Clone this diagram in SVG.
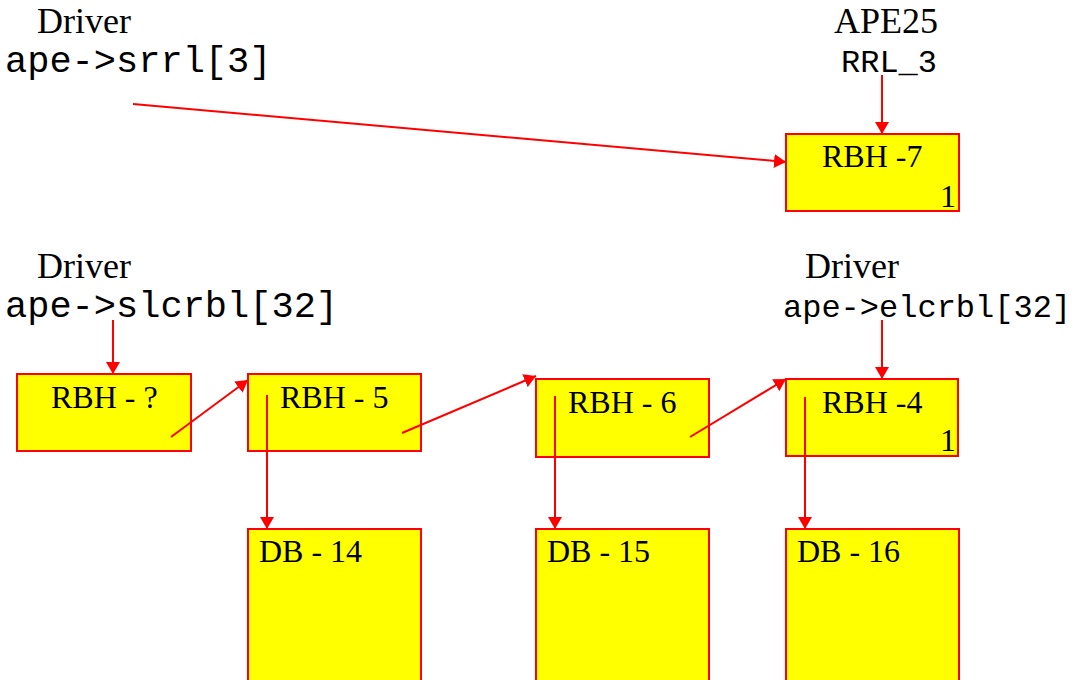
<svg xmlns="http://www.w3.org/2000/svg" width="1074" height="680" viewBox="0 0 1074 680">
<style>
.box{fill:#ffff00;stroke:#ff0000;stroke-width:2}
.lbl{font-family:"Liberation Serif","Times New Roman",serif;font-size:32px;fill:#000}
.head{font-family:"Liberation Serif","Times New Roman",serif;font-size:36px;fill:#000}
.mono{font-family:"Liberation Mono","Courier New",monospace;fill:#000}
.conn{stroke:#ff0000;stroke-width:2;fill:none;marker-end:url(#ah)}
</style>
<defs>
<marker id="ah" markerUnits="userSpaceOnUse" markerWidth="12" markerHeight="14" refX="12" refY="7" orient="auto">
<path d="M0,0 L12,7 L0,14 z" fill="#ff0000"/>
</marker>
</defs>
<rect width="1074" height="680" fill="#fff"/>
<g id="driver-srrl">
<text class="head" x="37" y="33">Driver</text>
<text class="mono" x="5" y="72" font-size="37">ape-&gt;srrl[3]</text>
</g>
<g id="ape25">
<text class="head" x="834" y="33">APE25</text>
<text class="mono" x="841" y="72" font-size="32">RRL_3</text>
</g>
<g id="driver-slcrbl">
<text class="head" x="37" y="278">Driver</text>
<text class="mono" x="5" y="317" font-size="37">ape-&gt;slcrbl[32]</text>
</g>
<g id="driver-elcrbl">
<text class="head" x="805" y="278">Driver</text>
<text class="mono" x="783" y="317" font-size="32">ape-&gt;elcrbl[32]</text>
</g>
<g id="rbh7">
<rect class="box" x="786" y="134" width="173" height="77"/>
<text class="lbl" x="822" y="167">RBH -7</text>
<text class="lbl" x="940" y="207">1</text>
</g>
<g id="rbhq">
<rect class="box" x="17" y="374" width="174" height="77"/>
<text class="lbl" x="51" y="408">RBH - ?</text>
</g>
<g id="rbh5">
<rect class="box" x="248" y="374" width="173" height="77"/>
<text class="lbl" x="280" y="408">RBH - 5</text>
</g>
<g id="rbh6">
<rect class="box" x="536" y="379" width="173" height="78"/>
<text class="lbl" x="568" y="413">RBH - 6</text>
</g>
<g id="rbh4">
<rect class="box" x="786" y="379" width="172" height="77"/>
<text class="lbl" x="822" y="413">RBH -4</text>
<text class="lbl" x="940" y="451">1</text>
</g>
<g id="db14">
<rect class="box" x="248" y="529" width="173" height="170"/>
<text class="lbl" x="259" y="562">DB - 14</text>
</g>
<g id="db15">
<rect class="box" x="536" y="529" width="173" height="170"/>
<text class="lbl" x="547" y="562">DB - 15</text>
</g>
<g id="db16">
<rect class="box" x="786" y="529" width="173" height="170"/>
<text class="lbl" x="797" y="562">DB - 16</text>
</g>
<g id="connectors">
<line class="conn" x1="133" y1="104" x2="786" y2="162"/>
<line class="conn" x1="882" y1="75" x2="882" y2="134"/>
<line class="conn" x1="113" y1="320" x2="113" y2="374"/>
<line class="conn" x1="882" y1="320" x2="882" y2="379"/>
<line class="conn" x1="171" y1="437" x2="248" y2="380"/>
<line class="conn" x1="402" y1="433" x2="536" y2="376"/>
<line class="conn" x1="690" y1="437" x2="786" y2="379"/>
<line class="conn" x1="267" y1="395" x2="267" y2="529"/>
<line class="conn" x1="555" y1="396" x2="555" y2="529"/>
<line class="conn" x1="805" y1="397" x2="805" y2="529"/>
</g>
</svg>
